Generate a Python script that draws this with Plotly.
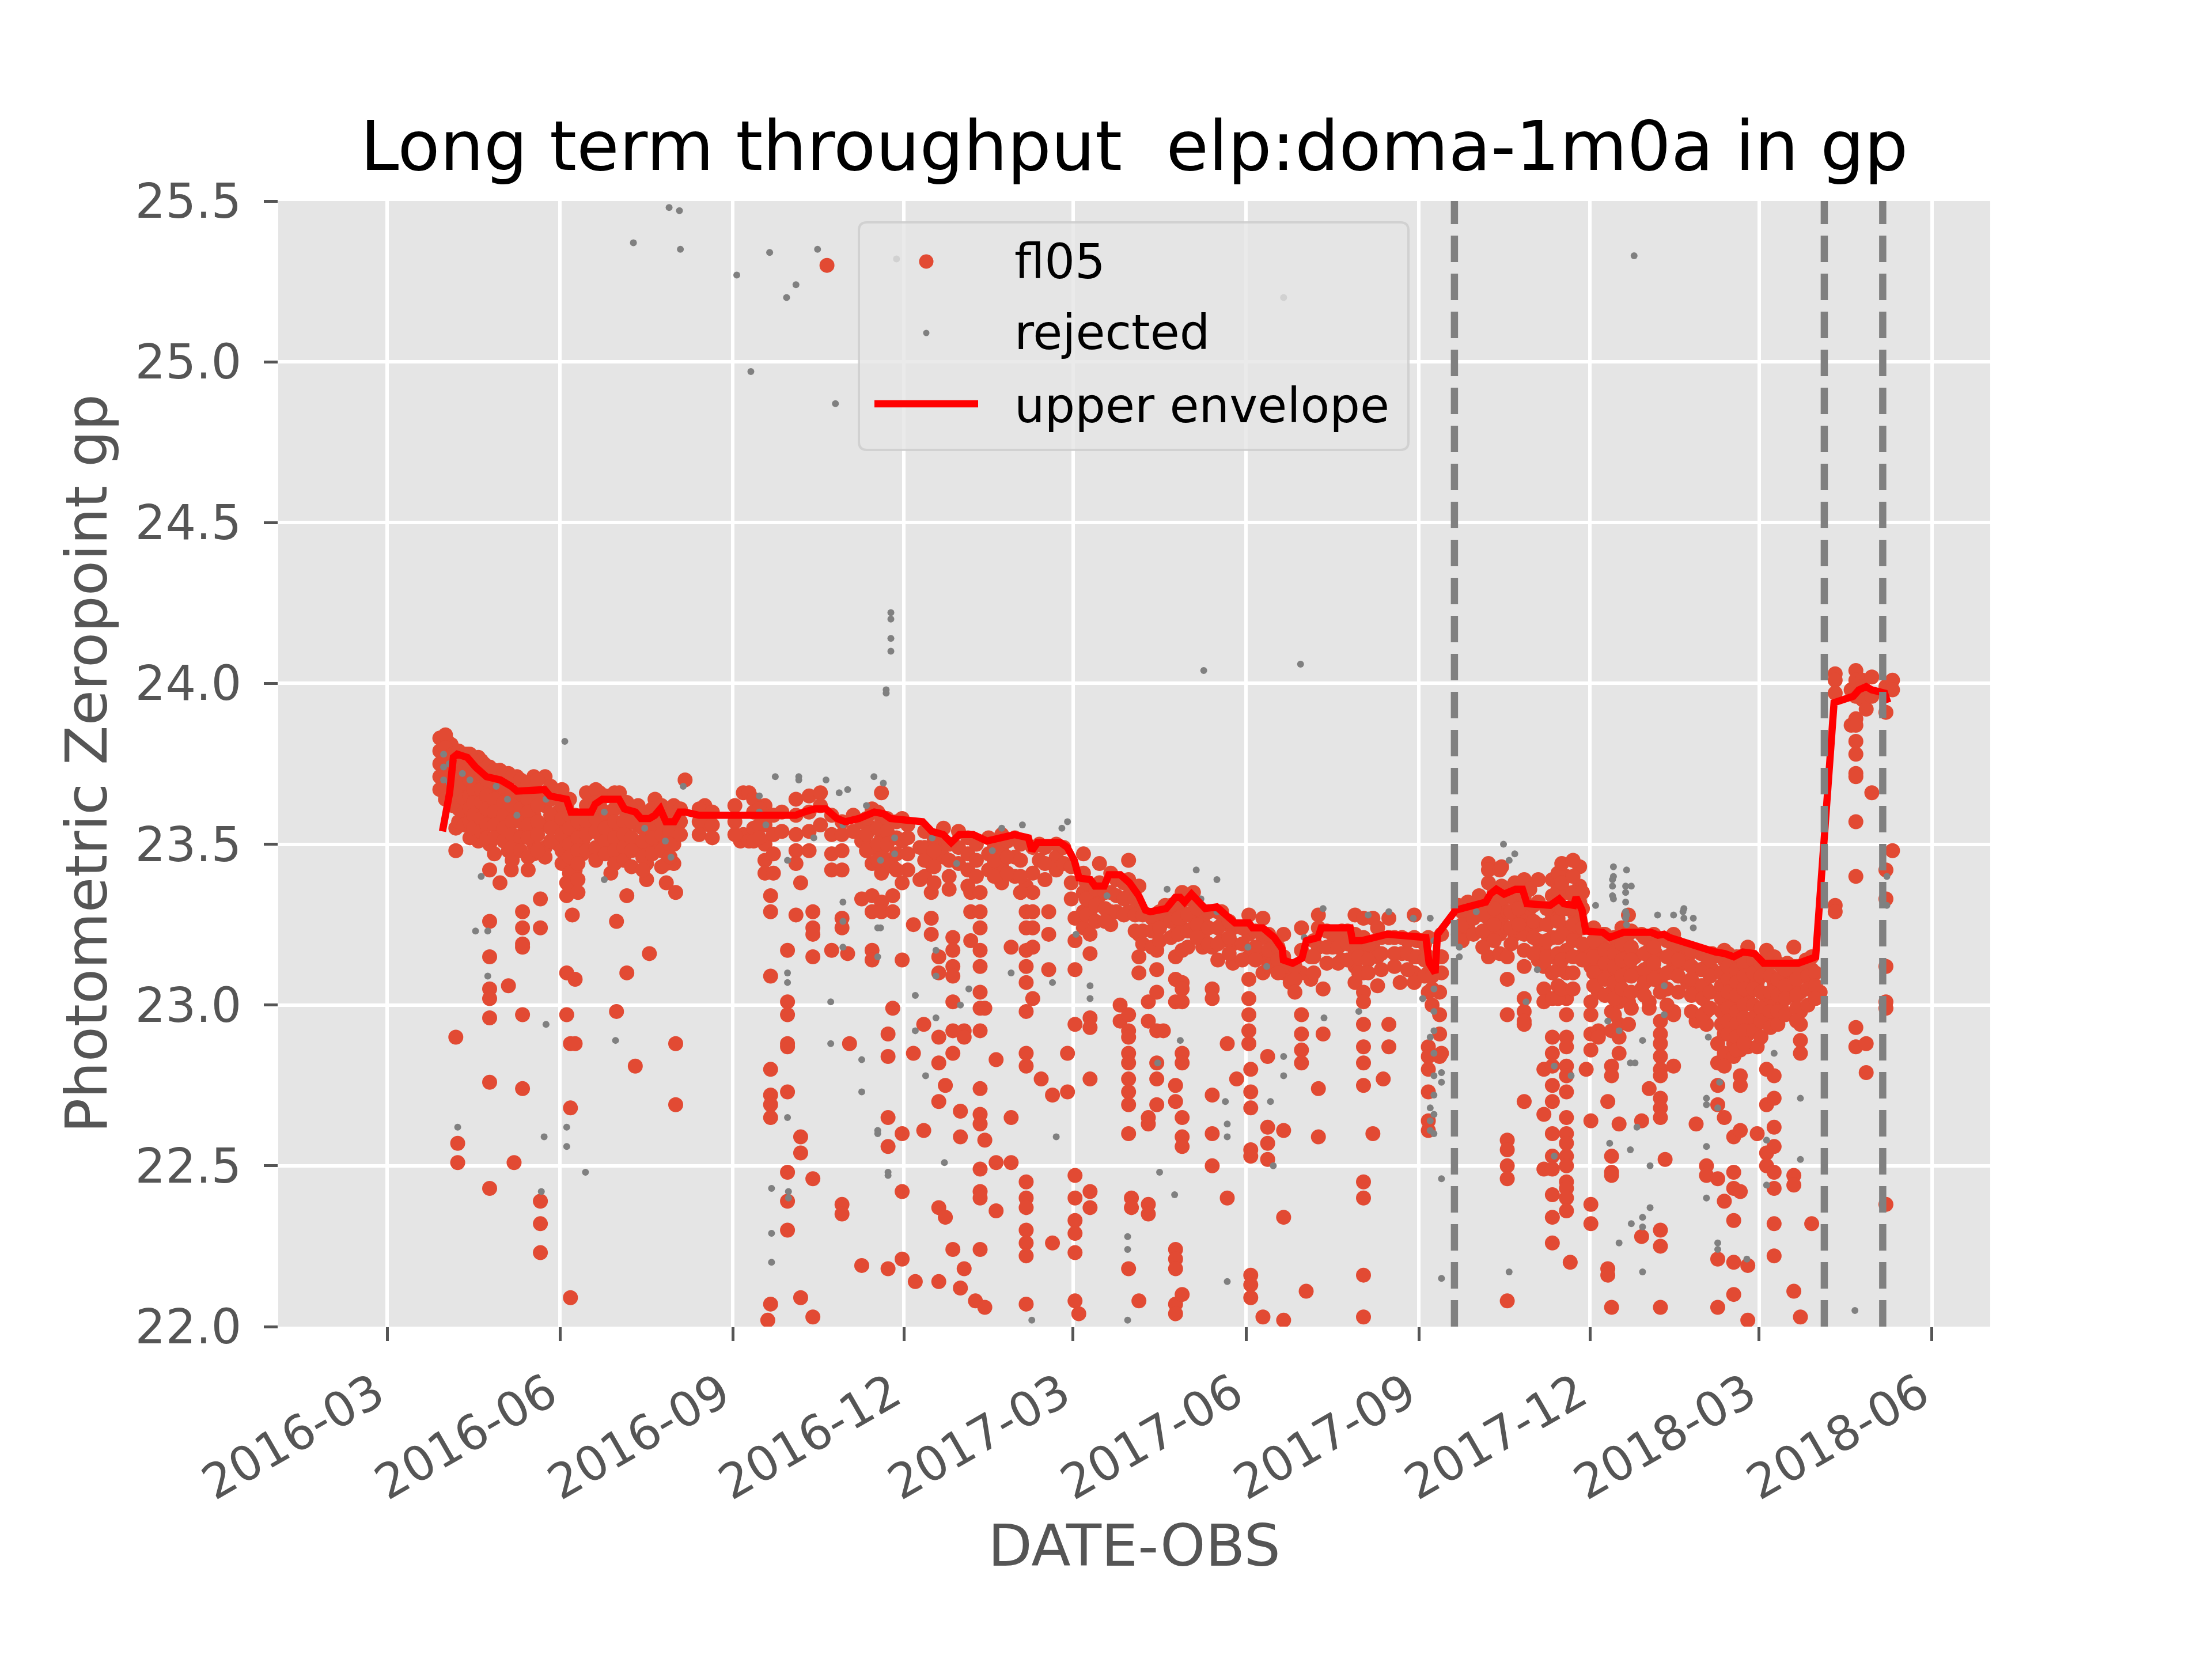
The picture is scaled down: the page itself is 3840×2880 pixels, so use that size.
import pandas as pd
import plotly.graph_objects as go

# observation dates are stored as days counted from 2016-03-01
DAY0 = pd.Timestamp("2016-03-01")

# accepted fl05 zeropoints, one column of values per night
fl05_day = [
    30, 32, 34, 36.5, 37.5, 39.5, 42.5, 48.5, 51.5, 54.5,
    60, 64.5, 66, 67.5, 69, 72, 78, 81.5, 84, 91,
    95.5, 97.5, 98.5, 100, 104, 108.5, 113, 119, 122, 123.5,
    127.5, 132, 133.5, 138, 139.5, 142.5, 148.5, 152.5, 153.5, 158.5,
    169, 171.5, 188, 189.5, 192.5, 201, 202.5, 204, 205.5, 210,
    213, 217.5, 220, 224.5, 226.5, 230.5, 234, 236.5, 242, 245,
    246, 248, 252.5, 258, 263, 266.5, 269, 274, 280, 281,
    283.5, 285.5, 289.5, 293.5, 296, 297, 301, 304, 305, 307,
    310.5, 313, 315.5, 318, 320, 324, 327, 332, 334, 340,
    343.5, 347, 348, 352, 354, 356, 360, 362, 366, 368,
    370.5, 374, 379, 385, 390, 394.5, 396, 400, 405, 409.5,
    413, 414, 419.5, 423, 429, 434, 439, 444, 447, 450,
    452, 458.5, 459.5, 466, 468.5, 472, 477, 480.5, 486.5, 489,
    491.5, 495.5, 498, 503, 508, 515, 519.5, 524.5, 527, 530,
    533, 539, 540, 546.5, 550, 554, 560, 561, 570, 575,
    581, 586, 592, 593, 596, 600, 605, 608, 612.5, 615.5,
    620, 623, 627.5, 629.5, 632, 634.5, 638, 640.5, 644.5, 647,
    649.5, 651.5, 655.5, 660.5, 664, 667.5, 671.5, 675, 677.5, 680,
    684.5, 690, 692, 696.5, 699, 702, 705, 708, 711.5, 716.5,
    720, 724, 726, 729, 734, 738, 742, 745, 748.5, 752,
    755, 758, 762.5, 770.5, 779, 781.5, 785, 787, 790, 797.5,
    801,
    # denser part of the band
    28, 31, 35, 38, 41, 44, 46, 50, 53, 57,
    62, 66.5, 71, 75, 80, 87, 93, 97, 101.5, 106,
    111, 116, 121, 126, 130, 136, 141, 146, 150.5, 156,
    166, 173, 185, 195, 198, 255, 261, 266, 271, 277,
    286, 291, 299, 309, 313.5, 323, 330, 337, 350, 364,
    372, 377, 382, 388, 392, 398, 402, 407, 411, 417,
    421, 426, 431, 437, 442, 448, 455, 462, 469, 474,
    483, 493, 500, 506, 511, 517, 522, 529, 536, 543,
    548, 552, 556, 572, 578, 583, 589, 598, 602, 610,
    617, 623, 625, 631, 636, 642, 648, 653, 657, 662,
    669, 674, 681, 687, 694, 700, 704, 710, 713.5, 718,
    722, 727, 731, 736, 740, 744, 750, 756, 760,
]
fl05_zp = [
    [23.80, 23.78, 23.75, 23.72, 23.69, 23.67, 23.74, 23.70],
    [23.82, 23.79, 23.76, 23.73, 23.69, 23.66],
    [23.81, 23.77, 23.71],
    [23.55, 23.48, 22.90],
    [22.57, 22.51],
    [23.76, 23.71, 23.66],
    [23.78, 23.74, 23.68],
    [23.77, 23.71, 23.66, 23.62, 23.58, 23.51],
    [23.75, 23.69, 23.63, 23.59],
    [23.74, 23.68, 23.62, 23.57, 23.50, 23.42, 23.26, 23.15, 23.05, 23.02, 22.96, 22.76, 22.43],
    [23.73, 23.66, 23.60, 23.54, 23.38],
    [23.72, 23.65, 23.59, 23.53, 23.48, 23.06],
    [23.42],
    [22.51],
    [23.71, 23.65, 23.59, 23.51],
    [23.69, 23.63, 23.57, 23.53, 23.29, 23.24, 23.19, 23.18, 22.97, 22.74],
    [23.71, 23.65, 23.59, 23.50, 23.47],
    [23.33, 23.24, 22.39, 22.32, 22.23],
    [23.71, 23.66, 23.62, 23.56, 23.49, 23.46],
    [23.65, 23.60, 23.56, 23.50],
    [23.62, 23.56, 23.50, 23.45, 23.38, 23.34, 23.10, 22.97],
    [22.88, 22.68, 22.09],
    [23.28],
    [23.59, 23.53, 23.47, 23.42, 23.08, 22.88],
    [23.56, 23.51, 23.47],
    [23.65, 23.60, 23.56],
    [23.66, 23.62, 23.57, 23.53],
    [23.65, 23.59, 23.53, 23.47, 23.41],
    [23.26, 22.98],
    [23.66, 23.62, 23.56],
    [23.63, 23.59, 23.53, 23.34, 23.10],
    [22.81],
    [23.62, 23.56, 23.50],
    [23.50, 23.44, 23.39],
    [23.16],
    [23.64, 23.59, 23.54, 23.51],
    [23.60, 23.56, 23.50, 23.44, 23.38],
    [23.62, 23.56, 23.50, 23.44],
    [23.35, 22.88, 22.69],
    [23.70],
    [23.62],
    [23.56],
    [23.51],
    [23.66, 23.53],
    [23.66, 23.51],
    [23.62, 23.56, 23.50, 23.45, 23.41],
    [22.02],
    [23.34, 23.29, 23.09, 22.80, 22.72, 22.69, 22.65, 22.07],
    [23.59, 23.53, 23.47, 23.41],
    [23.60, 23.54],
    [23.17, 23.01, 22.97, 22.88, 22.87, 22.73, 22.48, 22.39, 22.30],
    [23.64, 23.59, 23.53, 23.48, 23.44, 23.28],
    [23.38, 22.59, 22.54, 22.09],
    [23.65, 23.60, 23.54, 23.48],
    [23.29, 23.24, 23.22, 23.15, 22.46, 22.03],
    [23.66, 23.62, 23.56],
    [25.30],
    [23.59, 23.53, 23.47, 23.42, 23.17],
    [23.57, 23.53, 23.48, 23.42, 23.27, 23.24, 22.38, 22.35],
    [23.16],
    [22.88],
    [23.59, 23.54],
    [23.57, 23.51, 23.33, 22.19],
    [23.61, 23.55, 23.49, 23.44, 23.34, 23.29, 23.17, 23.14],
    [23.66, 23.58, 23.52, 23.48, 23.41, 23.32, 23.29],
    [22.91, 22.84, 22.65, 22.56, 22.18],
    [23.43, 23.34, 23.29, 22.99],
    [23.58, 23.51, 23.38, 23.14, 22.60, 22.42, 22.21],
    [23.25, 22.85],
    [22.14],
    [23.49, 23.39],
    [22.94, 22.61],
    [23.44, 23.35, 23.27, 23.22],
    [23.15, 23.10, 22.90, 22.82, 22.70, 22.37, 22.14],
    [23.55, 23.50, 23.46],
    [22.75, 22.34],
    [23.21, 23.17, 23.12, 23.09, 23.01, 22.92, 22.85, 22.24],
    [23.54, 23.49, 23.44],
    [22.67, 22.59, 22.12],
    [22.92, 22.90, 22.18],
    [23.35, 23.29, 23.20],
    [22.08],
    [23.35, 23.29, 23.24, 23.17, 23.12, 23.04, 22.99, 22.92, 22.74, 22.66, 22.63, 22.49, 22.42, 22.40, 22.24],
    [22.99, 22.58, 22.06],
    [23.52, 23.47, 23.42],
    [22.83, 22.51, 22.36],
    [23.53, 23.48, 23.43, 23.38],
    [23.18, 22.65, 22.51],
    [23.52, 23.46, 23.40],
    [23.37, 23.29, 23.24, 23.17, 23.12, 23.07, 22.98, 22.85, 22.81, 22.45, 22.40, 22.37, 22.30, 22.26, 22.22, 22.07],
    [23.49, 23.41, 23.35, 23.29, 23.24, 23.18, 23.02],
    [23.50, 23.45],
    [22.77],
    [23.29, 23.22, 23.11],
    [22.72, 22.26],
    [23.50, 23.46, 23.42],
    [23.49, 23.44],
    [22.85, 22.73],
    [23.27, 23.20, 23.11, 22.94, 22.47, 22.40, 22.33, 22.29, 22.23, 22.08],
    [22.04],
    [23.47, 23.41, 23.35, 23.29, 23.24],
    [23.29, 23.22, 23.16, 22.96, 22.93, 22.77, 22.42, 22.37],
    [23.44, 23.38, 23.34],
    [23.41, 23.35, 23.29, 23.25],
    [23.00, 22.95],
    [23.45, 23.39, 23.34, 23.29, 22.97, 22.92, 22.90, 22.85, 22.82, 22.77, 22.73, 22.69, 22.60, 22.18],
    [22.40, 22.37],
    [23.37, 23.29, 23.22, 23.15, 23.10, 22.08],
    [23.01, 22.95, 22.65, 22.63, 22.38, 22.35],
    [23.24, 23.17, 23.11, 23.04, 22.92, 22.82, 22.77, 22.69],
    [22.92],
    [23.31, 23.27],
    [23.29, 23.22, 23.15, 23.08, 23.01, 22.75, 22.70, 22.24, 22.21, 22.18, 22.07, 22.04],
    [23.35, 23.29, 23.24, 23.17, 23.07, 23.05, 23.01, 22.85, 22.82, 22.65, 22.59, 22.56, 22.10],
    [23.35, 23.29, 23.24],
    [23.26, 23.21, 23.18],
    [23.18, 23.05, 23.02, 22.72, 22.60, 22.50],
    [23.29, 23.25, 23.20],
    [22.88, 22.40],
    [23.24, 23.19, 23.13],
    [22.77],
    [23.28, 23.22, 23.15, 23.08, 23.02, 22.97, 22.92, 22.88],
    [22.80, 22.73, 22.68, 22.55, 22.53, 22.16, 22.13, 22.09],
    [23.27, 23.21, 23.15, 23.10, 22.03],
    [22.84, 22.62, 22.57, 22.52],
    [23.20, 23.15],
    [23.22, 23.15, 23.10, 22.61, 22.34, 22.02],
    [23.12, 23.07],
    [23.24, 23.17, 23.10, 22.97, 22.91, 22.86, 22.82],
    [22.11],
    [23.15, 23.08],
    [23.28, 23.24, 23.18, 22.74, 22.59],
    [23.05, 22.91],
    [23.22, 23.18],
    [23.23, 23.19, 23.14],
    [23.28, 23.22, 23.17, 23.12, 23.07],
    [23.27, 23.21, 23.15, 23.10, 23.04, 23.01, 22.94, 22.87, 22.82, 22.75, 22.45, 22.40, 22.16, 22.03],
    [23.27, 23.18, 22.60],
    [23.24, 23.15, 23.06],
    [22.77],
    [23.27, 23.21, 22.94, 22.87],
    [23.07],
    [23.21, 23.16],
    [23.28, 23.21, 23.15, 23.10, 23.07],
    [23.20, 23.15],
    [23.21, 23.15, 23.10, 23.04, 22.87, 22.84, 22.80, 22.73, 22.64, 22.61],
    [23.04, 22.97, 22.91, 22.84],
    [23.22, 23.15, 23.10, 22.85],
    [23.31, 23.22, 23.30],
    [23.32, 23.28, 23.24],
    [23.34],
    [23.44, 23.38, 23.32, 23.27, 23.21, 23.15, 23.42],
    [23.42, 23.22, 23.16],
    [23.43, 23.37, 23.32, 23.27],
    [23.35, 23.29, 23.24, 23.15, 23.08, 22.97, 22.58, 22.55, 22.50, 22.46, 22.08],
    [23.38, 23.33, 23.28, 23.22],
    [23.39, 23.34, 23.28, 23.22, 23.17, 23.12, 23.02, 22.98, 22.95, 22.70, 22.94],
    [23.36, 23.30, 23.25],
    [23.39, 23.32, 23.25, 23.20, 23.14],
    [22.80, 22.49, 23.17, 23.12, 23.05, 23.01, 22.66],
    [23.39, 23.34, 23.27, 23.21, 23.15, 23.10, 23.02, 22.90, 22.85, 22.81, 22.75, 22.70, 22.60, 22.53, 22.49, 22.41, 22.34, 22.26],
    [23.38, 23.33, 23.27],
    [23.40, 23.35, 23.30, 23.24, 23.17, 23.10, 23.02, 22.97, 22.90, 22.87, 22.81, 22.78, 22.73, 22.65, 22.60, 22.57, 22.53, 22.50, 22.45, 22.43, 22.40, 22.36],
    [22.20],
    [23.33, 23.28, 23.22],
    [23.43, 23.37, 23.32, 23.26, 23.15],
    [22.80],
    [23.17, 23.12, 23.01, 22.97, 22.91, 22.86, 22.64, 22.38, 22.32],
    [23.22, 23.15, 23.10, 23.04, 22.92, 22.90],
    [23.22, 23.18, 23.13],
    [22.70, 22.18, 22.16],
    [23.17, 23.10, 23.04, 22.98, 22.92, 22.81, 22.78, 22.53, 22.48, 22.47, 22.06],
    [23.17, 23.11, 23.07, 23.01, 22.94, 22.90, 22.85, 22.63],
    [23.28, 23.22, 23.17, 23.12, 23.10, 23.01, 22.94],
    [23.15, 23.10],
    [23.22, 23.05, 22.64, 22.28],
    [23.17, 23.12, 23.08, 23.01, 22.99, 22.74],
    [23.21, 23.16, 23.10],
    [23.07, 23.04, 22.95, 22.91, 22.88, 22.84, 22.80, 22.78, 22.71, 22.68, 22.65, 22.30, 22.25, 22.06],
    [22.52],
    [23.22, 23.17, 23.12, 23.10, 22.98, 22.97, 22.81],
    [23.18, 23.13],
    [23.15, 23.07],
    [23.04, 22.95, 22.63],
    [23.16, 23.11, 23.06],
    [23.12, 23.05, 22.98, 22.94, 22.50, 22.47],
    [23.16, 23.11],
    [22.88, 22.82, 22.75, 22.69, 22.46, 22.21, 22.06],
    [23.17, 23.14, 23.10, 23.03, 22.97, 22.91, 22.85, 22.81, 22.65, 22.39],
    [23.12, 23.07, 23.00, 22.95, 22.88, 22.84, 22.59, 22.48, 22.43, 22.33, 22.20, 22.10],
    [23.15, 23.10, 23.05, 22.99, 22.95, 22.91, 22.86, 22.78, 22.75, 22.61, 22.42],
    [23.18, 23.12, 23.07, 23.02, 22.95, 22.91, 22.87, 22.19, 22.02],
    [23.14, 23.09],
    [23.12, 23.07, 22.98, 22.94, 22.87, 22.60],
    [23.17, 23.10, 23.02, 22.80, 22.69, 22.54, 22.50],
    [23.15, 23.07, 23.00, 22.95, 22.78, 22.71, 22.62, 22.56, 22.48, 22.43, 22.32, 22.22],
    [23.12, 23.07, 22.99],
    [23.13, 23.08],
    [23.18, 23.12, 23.07, 23.03, 22.47, 22.44, 22.11],
    [23.04, 22.98, 22.94, 22.89, 22.85, 22.03],
    [23.14, 23.09],
    [23.15, 23.11, 23.08, 22.32],
    [23.04],
    [24.03, 24.01, 23.97, 23.31, 23.29],
    [23.98, 23.87],
    [24.04, 24.01, 23.96, 23.89, 23.87, 23.82, 23.78, 23.72, 23.71, 23.57, 23.40, 22.93, 22.87],
    [24.01, 23.99, 23.95],
    [23.92, 22.88, 22.79],
    [24.02, 23.96, 23.66],
    [23.99, 23.91, 23.42, 23.33, 23.12, 23.01, 22.99, 22.38],
    [24.01, 23.98, 23.48],
    # denser part of the band
    [23.83, 23.79, 23.75, 23.71, 23.67],
    [23.84, 23.80, 23.76, 23.72, 23.68, 23.64],
    [23.78, 23.74, 23.70, 23.66, 23.62],
    [23.79, 23.75, 23.70, 23.66, 23.61, 23.57],
    [23.78, 23.73, 23.69, 23.64, 23.60, 23.56],
    [23.78, 23.74, 23.70, 23.65, 23.61, 23.57, 23.52],
    [23.76, 23.72, 23.67, 23.63, 23.59, 23.55],
    [23.76, 23.72, 23.67, 23.63, 23.58, 23.54],
    [23.74, 23.70, 23.65, 23.61, 23.56, 23.52],
    [23.73, 23.69, 23.64, 23.60, 23.56, 23.52, 23.47],
    [23.72, 23.68, 23.63, 23.59, 23.55, 23.51],
    [23.71, 23.66, 23.62, 23.57, 23.53, 23.49, 23.45],
    [23.70, 23.66, 23.61, 23.57, 23.52, 23.48],
    [23.69, 23.64, 23.60, 23.56, 23.52, 23.46, 23.42],
    [23.70, 23.66, 23.62, 23.57, 23.53, 23.48],
    [23.68, 23.64, 23.59, 23.55, 23.51],
    [23.67, 23.62, 23.58, 23.53, 23.48, 23.44],
    [23.64, 23.59, 23.55, 23.50, 23.46, 23.41, 23.37],
    [23.57, 23.52, 23.48, 23.44, 23.39, 23.35],
    [23.66, 23.62, 23.57, 23.53, 23.48],
    [23.67, 23.63, 23.58, 23.54, 23.49, 23.45],
    [23.65, 23.60, 23.55, 23.51, 23.47],
    [23.66, 23.61, 23.57, 23.52, 23.48, 23.44],
    [23.62, 23.57, 23.53, 23.49, 23.45],
    [23.61, 23.57, 23.52, 23.48, 23.43],
    [23.60, 23.55, 23.51, 23.46, 23.42],
    [23.61, 23.56, 23.52, 23.47],
    [23.62, 23.57, 23.53, 23.48, 23.43],
    [23.59, 23.54, 23.50, 23.46],
    [23.61, 23.57, 23.53],
    [23.61, 23.57, 23.53],
    [23.60, 23.56, 23.52],
    [23.62, 23.57, 23.53],
    [23.64, 23.60, 23.55, 23.51],
    [23.61, 23.56, 23.52],
    [23.58, 23.53, 23.48],
    [23.60, 23.55, 23.50, 23.45],
    [23.58, 23.54, 23.50, 23.45],
    [23.57, 23.52, 23.47, 23.42],
    [23.56, 23.52, 23.47, 23.42],
    [23.54, 23.49, 23.45, 23.40],
    [23.52, 23.48, 23.43, 23.38],
    [23.50, 23.45, 23.40, 23.36],
    [23.52, 23.47, 23.42, 23.37],
    [23.50, 23.45, 23.40],
    [23.50, 23.45, 23.40],
    [23.51, 23.46, 23.41],
    [23.50, 23.45, 23.40, 23.35],
    [23.49, 23.44, 23.39],
    [23.43, 23.38, 23.33],
    [23.38, 23.33, 23.28],
    [23.36, 23.31, 23.26],
    [23.35, 23.30, 23.26],
    [23.39, 23.34, 23.29],
    [23.38, 23.33, 23.28],
    [23.33, 23.28, 23.23],
    [23.28, 23.23, 23.19],
    [23.27, 23.23, 23.18],
    [23.29, 23.24, 23.20],
    [23.31, 23.26, 23.21],
    [23.32, 23.27, 23.22],
    [23.33, 23.28, 23.23, 23.18],
    [23.30, 23.25, 23.21],
    [23.29, 23.24, 23.19],
    [23.29, 23.24, 23.19, 23.14],
    [23.26, 23.21, 23.16],
    [23.24, 23.19, 23.14],
    [23.23, 23.18, 23.14],
    [23.22, 23.17, 23.12],
    [23.18, 23.14, 23.10],
    [23.12, 23.08, 23.04],
    [23.20, 23.15, 23.10],
    [23.23, 23.18, 23.13],
    [23.22, 23.18, 23.13],
    [23.23, 23.19, 23.14],
    [23.19, 23.15, 23.10],
    [23.19, 23.14, 23.10],
    [23.21, 23.16, 23.11],
    [23.21, 23.16, 23.12],
    [23.20, 23.16, 23.11],
    [23.20, 23.15],
    [23.19, 23.14, 23.09],
    [23.09, 23.05, 23.00],
    [23.29, 23.25, 23.20],
    [23.31, 23.27, 23.22],
    [23.32, 23.28, 23.23, 23.18],
    [23.35, 23.30, 23.25, 23.20],
    [23.34, 23.29, 23.24, 23.19],
    [23.35, 23.30, 23.25],
    [23.31, 23.26, 23.21, 23.16],
    [23.30, 23.25, 23.20, 23.15],
    [23.41, 23.36, 23.31, 23.26, 23.21, 23.16, 23.11, 23.06, 23.02],
    [23.44, 23.38, 23.30, 23.22, 23.14, 23.05],
    [23.45, 23.40, 23.35, 23.30, 23.25, 23.20, 23.15, 23.10, 23.05],
    [23.35, 23.30, 23.24, 23.19, 23.14],
    [23.24, 23.20, 23.15, 23.10, 23.06],
    [23.22, 23.17, 23.13, 23.08, 23.03],
    [23.21, 23.16, 23.12, 23.07, 23.02, 22.97],
    [23.24, 23.19, 23.14, 23.09, 23.05],
    [23.23, 23.18, 23.14, 23.09, 23.04, 22.99],
    [23.21, 23.16, 23.11, 23.07, 23.03],
    [23.22, 23.18, 23.13, 23.08],
    [23.20, 23.15, 23.10, 23.05, 23.00],
    [23.19, 23.14, 23.09, 23.04],
    [23.17, 23.12, 23.08, 23.03, 22.98],
    [23.16, 23.11, 23.06, 23.02, 22.97],
    [23.14, 23.09, 23.04, 22.99],
    [23.15, 23.10, 23.06, 23.02, 22.98, 22.94],
    [23.16, 23.12, 23.08, 23.04, 22.99, 22.95, 22.91],
    [23.15, 23.11, 23.07, 23.03, 22.98, 22.94, 22.90, 22.86],
    [23.13, 23.09, 23.05, 23.00, 22.96, 22.92, 22.88],
    [23.14, 23.10, 23.05, 23.00, 22.96, 22.92],
    [23.13, 23.09, 23.04, 22.99, 22.95, 22.90],
    [23.13, 23.09, 23.04, 22.98, 22.93],
    [23.13, 23.08, 23.03, 22.98, 22.94],
    [23.11, 23.06, 23.02, 22.97],
    [23.12, 23.08, 23.03, 22.99, 22.95],
    [23.13, 23.09, 23.05, 23.00],
    [23.10, 23.06, 23.02],
]

# rejected zeropoints
rej_day = [
    30, 33, 37.5, 40, 44, 47, 50, 53.5, 58, 64,
    69, 82, 83.5, 84.5, 94.5, 95.5, 105.5, 115.5, 121.5, 131,
    137, 148, 150, 151, 155.5, 156, 157.5, 186, 193.5, 198,
    201.5, 203.5, 204.5, 206.5, 212.5, 213, 213.5, 217.5, 219, 227,
    229, 233.5, 236, 238.5, 240.5, 242.5, 245, 252.5, 255, 259,
    261, 262.5, 264, 265.5, 266.5, 268, 270, 271, 281, 286.5,
    290, 292, 296.5, 303, 305, 309.5, 322, 327, 332, 338,
    343, 354, 356, 359, 362, 366.5, 374, 383, 394, 410,
    411, 415, 419, 422, 430.5, 433, 434.5, 441.5, 446, 447,
    458, 468, 470, 471.5, 477, 486, 488, 498, 498.5, 517,
    522, 533, 546, 551, 555, 561, 570.5, 579.5, 594, 597,
    600, 606, 612, 621, 630, 643, 649.5, 650.5, 652, 655.5,
    659, 661.5, 662, 663.5, 664, 665, 668, 672, 676, 679.5,
    684.5, 689.5, 702, 703, 708, 709, 723.5, 734, 738, 752,
    781, 798, 557, 652.5, 659.5, 690, 695,
]
rej_zp = [
    [23.74, 23.70, 23.78], [23.75, 23.69], [22.62], [23.72], [23.70],
    [23.23], [23.40], [23.23, 23.09], [23.68], [23.64],
    [23.59], [22.42], [22.59], [22.94, 23.64], [23.82],
    [22.62, 22.56], [22.48], [23.39, 23.60], [22.89], [25.37],
    [23.55], [23.51], [25.48], [23.46], [25.47],
    [25.35], [23.68], [25.27], [24.97], [23.65, 23.60],
    [23.56], [25.34], [22.43, 22.29, 22.20], [23.71], [25.20],
    [23.10, 23.07, 22.65, 23.45], [22.42, 22.40], [25.24], [23.71, 23.70], [23.52],
    [25.35], [23.70], [23.01, 22.88], [24.87], [23.66],
    [23.32, 23.26, 23.18, 23.56], [23.67], [22.83, 22.73], [23.62], [23.71],
    [23.24, 23.15, 22.61, 22.60], [23.45, 23.24], [23.69], [23.98, 23.97], [22.48, 22.47],
    [24.22, 24.20, 24.14, 24.10], [23.52, 23.47], [25.32], [23.03, 22.92], [22.78],
    [23.52], [23.17, 23.09, 22.96], [22.51], [23.44], [23.00],
    [23.05], [23.48], [23.55], [23.10], [23.56],
    [22.02], [23.07], [22.59], [23.55], [23.57],
    [23.22], [23.06, 23.02], [23.34], [22.28, 22.24, 22.02], [22.82],
    [22.48], [23.36], [22.41], [22.89], [23.42],
    [23.33], [24.04], [23.39, 23.29], [22.70], [22.63, 22.59, 22.14],
    [23.18], [23.12], [22.70], [22.50], [25.20, 22.84, 22.78],
    [24.06], [23.21], [23.30], [22.96], [22.98],
    [23.28], [23.29], [23.27], [23.02], [22.90, 22.68, 22.64, 22.61, 23.27],
    [22.79, 22.76, 22.46, 22.15], [23.18, 23.15], [23.29], [23.50], [23.45, 22.17],
    [23.47], [23.01], [23.11], [22.81, 22.53], [22.78],
    [23.31], [22.95], [22.57], [23.39, 23.37, 23.34], [22.92, 22.26],
    [23.37, 23.35, 23.32, 23.29, 23.27], [22.82, 22.55], [23.37, 22.32], [25.33], [22.82],
    [22.62], [22.89, 22.34, 22.31, 22.17], [22.50, 22.37], [23.28], [23.06, 22.97],
    [23.28], [23.29], [22.71, 22.69, 22.56, 22.40], [22.90], [22.68, 22.26, 22.24],
    [22.76], [22.21], [22.58, 22.44], [22.85], [22.71, 22.52],
    [22.05], [23.40, 23.31],
    [23.20, 23.12, 23.05, 22.98, 22.92, 22.85, 22.78, 22.72, 22.66, 22.60],
    [23.43, 23.40, 23.33], [23.42, 23.28, 23.25], [23.30, 23.27], [23.27, 23.24],
]

# upper envelope of the accepted points
env_day = [
    29.4, 33.2, 35.2, 37.3, 42.6, 47, 52.8, 60.2, 66, 69,
    83.7, 86.6, 95.4, 97.8, 108.6, 110.7, 114.5, 123.3, 126.2, 132.1,
    135, 139.5, 142.4, 145.3, 148.3, 152.7, 155.6, 158.5, 165.9, 195.2,
    217.3, 221.7, 227.5, 233.4, 239.3, 243.7, 251, 259.2, 264.1, 267.8,
    284.9, 289.8, 295.9, 300.1, 304.5, 311.8, 319.1, 326.5, 333.8, 341.2,
    343.1, 346, 358.3, 361.9, 365.6, 368.1, 374.2, 376.6, 381.5, 384,
    390.1, 395, 399.9, 403.5, 406, 414.5, 419.4, 421.9, 424.3, 428,
    432.9, 435.3, 441.4, 446.3, 451.2, 458.6, 460.5, 465.9, 472, 476.2,
    476.9, 481.8, 486.7, 489.1, 495.3, 497, 512.4, 513.6, 518.5, 532,
    546.6, 552.7, 554.4, 557.6, 558.9, 568.6, 584.5, 587, 590.2, 594.3,
    600.4, 604.1, 606.5, 615.1, 618.8, 623.7, 626.1, 631.4, 632.6, 635.8,
    637.8, 646.8, 650.5, 657.8, 672.5, 676.2, 679.4, 682.3, 687.2, 692.1,
    697, 703.1, 706.8, 711.7, 716.5, 721.4, 727.6, 732.4, 750.8, 758.1,
    760.1, 769.9, 780.1, 783.1, 787, 790, 796.8, 798.5,
]
env_zp = [
    23.54, 23.66, 23.77, 23.78, 23.77, 23.74, 23.71, 23.70, 23.68, 23.665,
    23.67, 23.65, 23.64, 23.60, 23.60, 23.625, 23.64, 23.64, 23.61, 23.60,
    23.58, 23.58, 23.59, 23.61, 23.57, 23.57, 23.60, 23.60, 23.59, 23.59,
    23.59, 23.60, 23.61, 23.61, 23.58, 23.57, 23.58, 23.60, 23.595, 23.58,
    23.57, 23.54, 23.53, 23.505, 23.53, 23.53, 23.51, 23.52, 23.53, 23.52,
    23.48, 23.505, 23.505, 23.49, 23.45, 23.395, 23.39, 23.37, 23.37, 23.405,
    23.405, 23.38, 23.34, 23.295, 23.29, 23.30, 23.335, 23.335, 23.32, 23.345,
    23.315, 23.30, 23.305, 23.28, 23.255, 23.255, 23.24, 23.24, 23.21, 23.175,
    23.14, 23.13, 23.145, 23.20, 23.21, 23.24, 23.24, 23.20, 23.20, 23.22,
    23.215, 23.21, 23.13, 23.10, 23.22, 23.295, 23.32, 23.345, 23.36, 23.345,
    23.36, 23.36, 23.315, 23.315, 23.31, 23.33, 23.315, 23.31, 23.335, 23.295,
    23.23, 23.226, 23.21, 23.226, 23.226, 23.217, 23.22, 23.21, 23.20, 23.195,
    23.18, 23.17, 23.165, 23.16, 23.15, 23.165, 23.16, 23.13, 23.13, 23.145,
    23.15, 23.94, 23.96, 23.98, 23.99, 23.98, 23.97, 23.94,
]

# dashed markers of instrument changes
event_day = [567.9, 764.7, 795.8]

assert len(fl05_day) == len(fl05_zp)
assert len(rej_day) == len(rej_zp)
assert len(env_day) == len(env_zp)


def to_dates(days):
    return DAY0 + pd.to_timedelta(pd.Series(days, dtype=float), unit="D")


def flatten(days, groups):
    xs, ys = [], []
    for d, vals in zip(days, groups):
        xs += [d] * len(vals)
        ys += vals
    return to_dates(xs), ys


W, H = 3840, 2880
L, R, T, B = 483, 3455, 349, 2303  # plot area in pixels


def px(x):
    return (x - L) / (R - L)


def py(y):
    return (B - y) / (B - T)


FONT = "DejaVu Sans"
RED = "#E24A33"
GREY = "#808080"

fl_x, fl_y = flatten(fl05_day, fl05_zp)
rj_x, rj_y = flatten(rej_day, rej_zp)

fig = go.Figure()
fig.add_trace(go.Scatter(x=fl_x, y=fl_y, mode="markers", name="fl05",
                         marker=dict(color=RED, size=26, line=dict(width=0))))
fig.add_trace(go.Scatter(x=rj_x, y=rj_y, mode="markers", name="rejected",
                         marker=dict(color=GREY, size=12, line=dict(width=0))))
fig.add_trace(go.Scatter(x=to_dates(env_day), y=env_zp, mode="lines", name="upper envelope",
                         line=dict(color="#FF0000", width=12.5)))

for d in to_dates(event_day):
    fig.add_shape(type="line", xref="x", yref="paper", x0=d, x1=d, y0=0, y1=1,
                  line=dict(color=GREY, width=12.5, dash="46px,20px"))

# legend box drawn by hand so that its symbols keep the reference size
bx0, bx1, by0, by1, rad = 1491, 2445, 386, 781, 14
path = (f"M{px(bx0 + rad)},{py(by0)} L{px(bx1 - rad)},{py(by0)} "
        f"Q{px(bx1)},{py(by0)} {px(bx1)},{py(by0 + rad)} L{px(bx1)},{py(by1 - rad)} "
        f"Q{px(bx1)},{py(by1)} {px(bx1 - rad)},{py(by1)} L{px(bx0 + rad)},{py(by1)} "
        f"Q{px(bx0)},{py(by1)} {px(bx0)},{py(by1 - rad)} L{px(bx0)},{py(by0 + rad)} "
        f"Q{px(bx0)},{py(by0)} {px(bx0 + rad)},{py(by0)} Z")
fig.add_shape(type="path", path=path, xref="paper", yref="paper", layer="above",
              fillcolor="rgba(229,229,229,0.8)", line=dict(color="rgba(204,204,204,0.8)", width=4))
for cx, cy, size, col in [(1608, 454, 25, RED), (1608, 578, 11, GREY)]:
    fig.add_shape(type="circle", xref="paper", yref="paper", layer="above",
                  xsizemode="pixel", ysizemode="pixel", xanchor=px(cx), yanchor=py(cy),
                  x0=-size / 2, x1=size / 2, y0=-size / 2, y1=size / 2,
                  fillcolor=col, line=dict(width=0))
fig.add_shape(type="line", xref="paper", yref="paper", layer="above",
              x0=px(1518), x1=px(1698), y0=py(701), y1=py(701),
              line=dict(color="#FF0000", width=12.5))
for label, cy in [("fl05", 454), ("rejected", 577), ("upper envelope", 704)]:
    fig.add_annotation(text=label, xref="paper", yref="paper", x=px(1759), y=py(cy),
                       xanchor="left", yanchor="middle", showarrow=False,
                       font=dict(family=FONT, size=83, color="black"))

# axis titles
fig.add_annotation(text="DATE-OBS", xref="paper", yref="paper", x=px(1969), y=py(2683),
                   xanchor="center", yanchor="middle", showarrow=False,
                   font=dict(family=FONT, size=100, color="#555555"))
fig.add_annotation(text="Photometric Zeropoint gp", xref="paper", yref="paper",
                   x=px(150), y=0.5, textangle=-90, xanchor="center", yanchor="middle",
                   showarrow=False, font=dict(family=FONT, size=100, color="#555555"))

axis_style = dict(showgrid=True, gridcolor="white", gridwidth=6, zeroline=False,
                  showline=False, ticks="outside", ticklen=24, tickwidth=5,
                  tickcolor="#555555", automargin=False,
                  tickfont=dict(family=FONT, size=83, color="#555555"))

fig.update_layout(
    width=W, height=H,
    margin=dict(l=L, r=W - R, t=T, b=H - B, pad=0),
    paper_bgcolor="white", plot_bgcolor="#E5E5E5",
    showlegend=False,
    title=dict(text="Long term throughput  elp:doma-1m0a in gp", x=0.5, xref="paper",
               xanchor="center", y=1 - 253 / H, yref="container", yanchor="middle",
               font=dict(family=FONT, size=120, color="black")),
    xaxis=dict(type="date", range=["2016-01-03", "2018-07-02"], tick0="2016-03-01",
               dtick="M3", tickformat="%Y-%m", tickangle=-30,
               ticklabelstandoff=10, ticklabelshift=-20, **axis_style),
    yaxis=dict(range=[22.0, 25.5], dtick=0.5, tickformat=".1f",
               ticklabelstandoff=22, **axis_style),
)

# the page body keeps no default margin so the figure sits at the window corner
fig.write_html("out.html", config={"displayModeBar": False},
               post_script="document.body.style.margin='0';")
